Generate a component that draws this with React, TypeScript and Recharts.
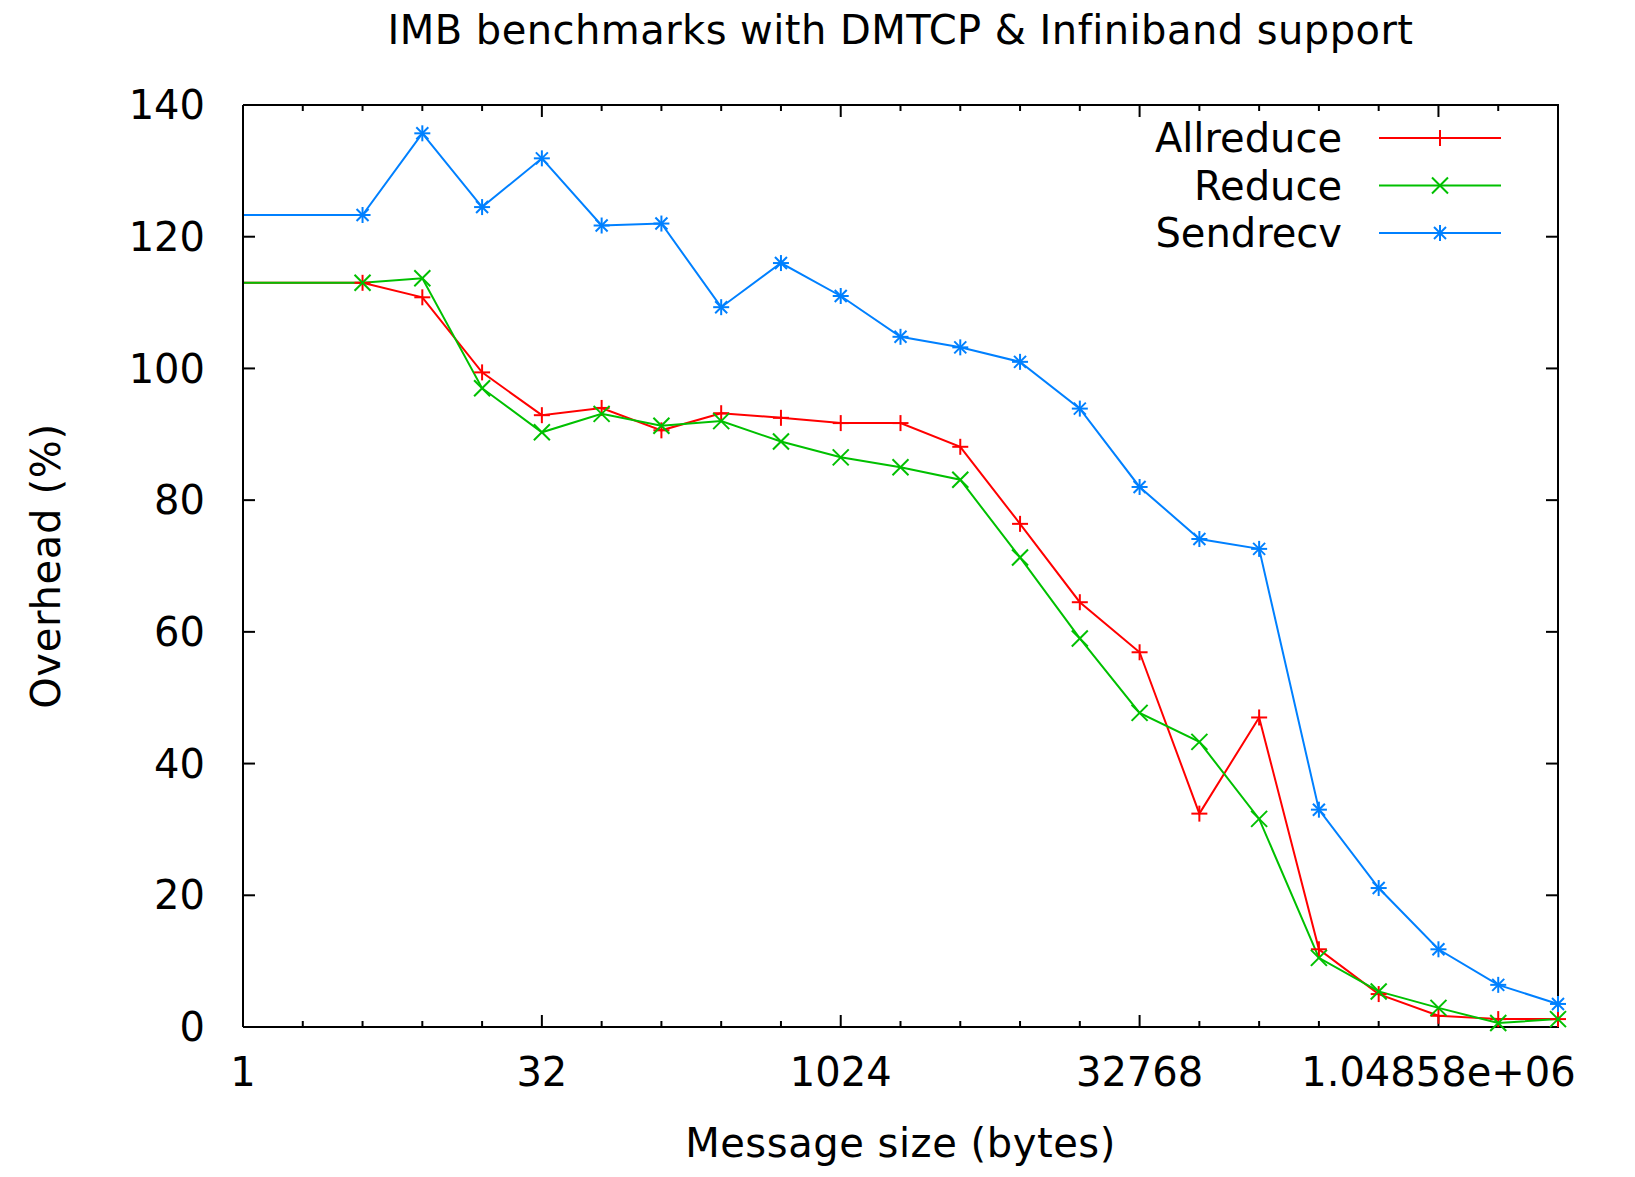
import React from 'react';
import { LineChart, Line, XAxis, YAxis, Legend } from 'recharts';

// Message sizes in bytes (first entry is the 0-byte run, drawn at the left edge of the log axis)
const messageSizes = [1, 4, 8, 16, 32, 64, 128, 256, 512, 1024, 2048, 4096, 8192, 16384, 32768, 65536, 131072, 262144, 524288, 1048576, 2097152, 4194304];
const allreduce = [113.0, 113.0, 110.8, 99.4, 92.9, 94.0, 90.6, 93.2, 92.5, 91.7, 91.7, 88.1, 76.4, 64.5, 56.9, 32.4, 47.0, 11.8, 5.0, 1.7, 1.2, 1.2];
const reduce = [113.0, 113.0, 113.7, 97.0, 90.3, 93.1, 91.3, 92.0, 88.9, 86.5, 85.0, 83.1, 71.3, 59.0, 47.7, 43.3, 31.6, 10.5, 5.4, 2.9, 0.6, 1.2];
const sendrecv = [123.3, 123.3, 135.7, 124.5, 131.9, 121.7, 122.0, 109.3, 116.0, 111.0, 104.8, 103.2, 101.0, 93.9, 82.0, 74.1, 72.6, 33.0, 21.1, 11.8, 6.4, 3.5];

const xMajorTicks = [1, 32, 1024, 32768, 1048576];
const xMajorLabels = ['1', '32', '1024', '32768', '1.04858e+06'];
const xMinorTicks = [2, 4, 8, 16, 64, 128, 256, 512, 2048, 4096, 8192, 16384, 65536, 131072, 262144, 524288, 2097152, 4194304];
const yTicks = [0, 20, 40, 60, 80, 100, 120, 140];

const seriesNames = ['Allreduce', 'Reduce', 'Sendrecv'];
const seriesKeys = ['allreduce', 'reduce', 'sendrecv'];
const seriesColors = ['#ff0000', '#00c000', '#0080ff'];
const seriesShapes = ['plus', 'cross', 'star'];

const data = messageSizes.map((size, i) => ({
  size,
  allreduce: allreduce[i],
  reduce: reduce[i],
  sendrecv: sendrecv[i],
}));

const FONT = '"DejaVu Sans", Verdana, sans-serif';
const FS = 40;
const MS = 8;

function Marker({ cx, cy, shape, color }: { cx: number; cy: number; shape: string; color: string }) {
  const s = MS;
  const d = s * 0.75;
  const parts: React.ReactNode[] = [];
  if (shape === 'plus' || shape === 'star') {
    parts.push(<line key="h" x1={cx - s} y1={cy} x2={cx + s} y2={cy} />);
    parts.push(<line key="v" x1={cx} y1={cy - s} x2={cx} y2={cy + s} />);
  }
  if (shape === 'cross' || shape === 'star') {
    const k = shape === 'star' ? d : s;
    parts.push(<line key="d1" x1={cx - k} y1={cy - k} x2={cx + k} y2={cy + k} />);
    parts.push(<line key="d2" x1={cx - k} y1={cy + k} x2={cx + k} y2={cy - k} />);
  }
  return (
    <g stroke={color} strokeWidth={2} fill="none">
      {parts}
    </g>
  );
}

const makeDot = (shape: string, color: string) => (props: any) => {
  const { cx, cy, index } = props;
  if (index === 0 || cx == null || cy == null) return <g key={`d-${shape}-${index}`} />;
  return (
    <g key={`d-${shape}-${index}`}>
      <Marker cx={cx} cy={cy} shape={shape} color={color} />
    </g>
  );
};

const EmptyTick = () => <g />;

const LegendContent = () => {
  const rowY = [33, 80.5, 128];
  return (
    <svg width={420} height={160} style={{ overflow: 'visible', display: 'block' }}>
      {seriesNames.map((name, i) => (
        <g key={name}>
          <text
            x={242}
            y={rowY[i]}
            textAnchor="end"
            dominantBaseline="central"
            fontFamily={FONT}
            fontSize={FS}
            fill="#000"
          >
            {name}
          </text>
          <line x1={279} x2={401} y1={rowY[i]} y2={rowY[i]} stroke={seriesColors[i]} strokeWidth={2} />
          <Marker cx={340} cy={rowY[i]} shape={seriesShapes[i]} color={seriesColors[i]} />
        </g>
      ))}
    </svg>
  );
};

const TitleLabel = (props: any) => {
  const vb = props.viewBox || {};
  const cx = vb.x + vb.width / 2;
  return (
    <text x={cx} y={44} textAnchor="middle" fontFamily={FONT} fontSize={FS} letterSpacing={0.45} fill="#000">
      IMB benchmarks with DMTCP &amp; Infiniband support
    </text>
  );
};

const XLabel = (props: any) => {
  const vb = props.viewBox || {};
  const cx = vb.x + vb.width / 2;
  return (
    <text x={cx} y={1157} textAnchor="middle" fontFamily={FONT} fontSize={FS} letterSpacing={0.55} fill="#000">
      Message size (bytes)
    </text>
  );
};

const YLabel = (props: any) => {
  const vb = props.viewBox || {};
  const cy = vb.y + vb.height / 2;
  return (
    <text
      x={60}
      y={cy}
      textAnchor="middle"
      transform={`rotate(-90, 60, ${cy})`}
      fontFamily={FONT}
      fontSize={FS}
      letterSpacing={0.7}
      fill="#000"
    >
      Overhead (%)
    </text>
  );
};

const tickStyle = { fontFamily: FONT, fontSize: FS, fill: '#000' };
const axisLine = { stroke: '#000', strokeWidth: 2 };
const tickLine = { stroke: '#000', strokeWidth: 2 };

export default function App() {
  return (
    <div style={{ position: 'absolute', left: 0, top: 0, width: 1635, height: 1177, background: '#fff' }}>
      <LineChart
        width={1635}
        height={1177}
        data={data}
        margin={{ top: 103, right: 76, bottom: 148, left: 242 }}
        style={{ fontFamily: FONT }}
      >
        <XAxis
          xAxisId="bottom"
          dataKey="size"
          type="number"
          scale="log"
          domain={[1, 4194304]}
          ticks={xMajorTicks}
          tickFormatter={(v: number) => xMajorLabels[xMajorTicks.indexOf(v)] ?? String(v)}
          tick={tickStyle}
          tickSize={-12}
          tickMargin={43}
          tickLine={tickLine}
          axisLine={axisLine}
          height={1}
          interval={0}
          label={<XLabel />}
        />
        <XAxis
          xAxisId="bottomMinor"
          dataKey="size"
          type="number"
          scale="log"
          domain={[1, 4194304]}
          ticks={xMinorTicks}
          tick={EmptyTick}
          tickSize={-7}
          tickLine={tickLine}
          axisLine={false}
          height={1}
          interval={0}
        />
        <XAxis
          xAxisId="top"
          orientation="top"
          dataKey="size"
          type="number"
          scale="log"
          domain={[1, 4194304]}
          ticks={xMajorTicks}
          tick={EmptyTick}
          tickSize={-12}
          tickLine={tickLine}
          axisLine={axisLine}
          height={1}
          interval={0}
          label={<TitleLabel />}
        />
        <XAxis
          xAxisId="topMinor"
          orientation="top"
          dataKey="size"
          type="number"
          scale="log"
          domain={[1, 4194304]}
          ticks={xMinorTicks}
          tick={EmptyTick}
          tickSize={-7}
          tickLine={tickLine}
          axisLine={false}
          height={1}
          interval={0}
        />
        <YAxis
          yAxisId="left"
          type="number"
          domain={[0, 140]}
          ticks={yTicks}
          tick={tickStyle}
          tickSize={-12}
          tickMargin={50}
          tickLine={tickLine}
          axisLine={axisLine}
          width={1}
          interval={0}
          label={<YLabel />}
        />
        <YAxis
          yAxisId="right"
          orientation="right"
          type="number"
          domain={[0, 140]}
          ticks={yTicks}
          tick={EmptyTick}
          tickSize={-12}
          tickLine={tickLine}
          axisLine={axisLine}
          width={1}
          interval={0}
        />
        <Legend
          content={<LegendContent />}
          layout="vertical"
          align="center"
          verticalAlign="middle"
          wrapperStyle={{ position: 'absolute', left: 1100, top: 105, width: 420, height: 160 }}
        />
        {seriesKeys.map((key, i) => (
          <Line
            key={key}
            xAxisId="bottom"
            yAxisId="left"
            type="linear"
            dataKey={key}
            name={seriesNames[i]}
            stroke={seriesColors[i]}
            strokeWidth={2}
            dot={makeDot(seriesShapes[i], seriesColors[i])}
            activeDot={false}
            isAnimationActive={false}
          />
        ))}
        {seriesKeys.map((key, i) => (
          <Line
            key={`${key}-top`}
            xAxisId="top"
            yAxisId="right"
            dataKey={key}
            stroke="none"
            dot={false}
            activeDot={false}
            legendType="none"
            isAnimationActive={false}
          />
        ))}
        <Line
          xAxisId="bottomMinor"
          yAxisId="left"
          dataKey="allreduce"
          stroke="none"
          dot={false}
          activeDot={false}
          legendType="none"
          isAnimationActive={false}
        />
        <Line
          xAxisId="topMinor"
          yAxisId="right"
          dataKey="allreduce"
          stroke="none"
          dot={false}
          activeDot={false}
          legendType="none"
          isAnimationActive={false}
        />
      </LineChart>
    </div>
  );
}
